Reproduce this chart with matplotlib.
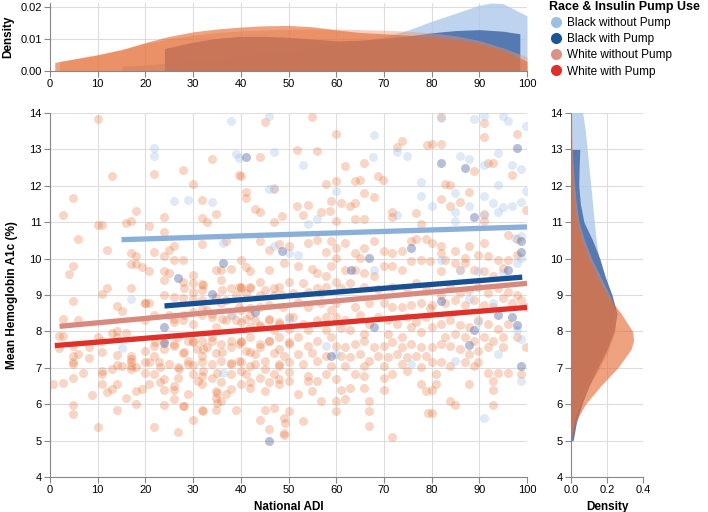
import numpy as np
import matplotlib
matplotlib.use("Agg")
import matplotlib.pyplot as plt
from matplotlib.lines import Line2D

plt.rcParams['font.family'] = ['Liberation Sans', 'DejaVu Sans']

# ---- scatter points (ADI, mean A1c) ----
white_0_20 = [(10,13.84),(13,12.28),(4.9,11.66),(2.8,11.2),(18.1,11.3),(10,10.93),(11,10.93),(16,10.98),(17,11.04),
    (5.9,10.55),(11.9,10.25),(17,10.16),(18.1,10.07),(17,9.86),(18.1,9.86),(19.2,9.76),(4.9,9.79),(3.9,9.57),(11.9,9.2),
    (11,9.03),(17,9.2),(4.9,8.83),(14,8.69),(15,8.57),(20,8.77),(2.8,8.33),(5.9,8.3),(1.8,7.88),(2.8,7.86),(1.8,7.55),
    (4.9,7.6),(8.1,7.56),(10,7.84),(11,7.73),(13,7.95),(14,8.0),(16,7.95),(14,7.84),(14,7.36),(4.9,7.33),(4.9,7.15),
    (4.9,7.1),(5.9,7.38),(8.1,7.27),(11,7.43),(17,7.33),(17,7.24),(17,7.15),(17,7.06),(17,6.96),(18.1,7.03),(14,7.08),
    (15,7.04),(13,6.96),(11,6.92),(11,6.82),(7,6.87),(0.7,6.56),(2.8,6.58),(4.9,6.71),(11,6.55),(11.9,6.34),(13,6.42),
    (14,6.55),(8.9,6.25),(16,6.18),(18.1,6.36),(19.2,6.42),(4.9,5.97),(4.9,5.74),(14,5.85),(18.1,6.0),(10,5.37),(20,6.87),(20,7.15)]

white_20_40 = [(21.9,12.33),(27.9,12.43),(29.9,12.06),(34,12.73),(39.7,12.29),(23.8,11.13),(20.8,10.9),(23.8,10.74),
    (31.9,11.6),(31.9,11.11),(32.9,11.0),(34.9,11.22),(31.9,10.39),(36.9,10.48),(25.9,10.34),(21.9,10.18),(24.9,10.23),
    (23.8,10.06),(25.9,9.97),(27.9,9.95),(20.8,9.65),(23.8,9.65),(24.9,9.6),(23.8,9.42),(27.9,9.37),(29.9,9.34),(29.9,9.56),
    (31.9,9.3),(31.9,9.14),(34.9,9.69),(35.9,9.69),(38,9.72),(35.9,9.42),(39.6,9.23),
    (20,8.78),(20.8,8.78),(23.8,9.0),(25.9,8.95),(27.9,8.91),(29.9,8.88),(31.9,8.86),(31.9,8.62),(32.9,8.58),(34.9,8.95),
    (35.9,8.78),(36.9,8.86),(38.9,9.0),(39.7,8.68),
    (20,8.3),(21.9,8.44),(24.9,8.44),(25.9,8.26),(27.9,8.31),(29.9,8.21),(31.9,8.44),(33.9,8.4),(34.9,8.12),(36.9,8.31),(38.9,8.31),
    (20,7.47),(21.9,7.61),(23.8,7.75),(25.9,7.66),(26.9,7.84),(28.9,7.75),(29.9,7.75),(31.9,7.75),(32.9,7.56),(33.9,7.84),
    (35.9,7.66),(37.9,7.75),(39.7,7.66),(21.9,7.33),(27.9,7.4),(30.8,7.52),(31.9,7.33),(34.9,7.42),
    (20.8,7.15),(22.8,7.15),(24.9,7.1),(26.9,7.03),(28.9,7.19),(29.9,7.08),(31.9,7.15),(33.9,7.1),(35.9,7.19),(37.9,7.12),
    (39.7,7.19),(21.9,6.82),(23.8,6.68),(26.9,6.73),(29.9,6.82),(31.9,6.78),(33.9,6.73),(35.9,6.62),(37.9,6.82),
    (23.8,6.38),(25.9,6.38),(28.9,6.29),(31.9,6.55),(34.9,6.36),(34.9,6.18),(35.9,6.08),(36.9,6.29),(20.8,6.55),
    (23.8,5.99),(25.9,6.13),(27.9,5.96),(31.9,5.83),(34.9,5.83),(21.9,5.37),(26.9,5.23),(29.9,5.57),
    (28,9.19),(30,9.09),(32,9.28),(36,9.14),(38,9.19),(26,8.35),(28,8.44),(30,8.54),(34,8.49),(36,8.35),(38,8.44),
    (22,7.7),(24,7.52),(26,7.61),(28,7.43),(30,7.7),(32,7.52),(34,7.75),(36,7.43),(38,7.56),(23,7.01),(27,6.98),(29,7.1),
    (32,6.92),(35,6.87),(38,7.1),(23,6.6),(26,6.5),(31,6.64),(35,6.31),(38,6.43),(28,5.94),(32,5.81),(35,6.04),(39,5.85)]

white_40_60 = [(45,13.74),(55,13.88),(44,12.78),(51.7,12.98),(55.9,12.95),(40,12.27),(41,11.82),(41,11.67),(47,11.92),
    (51.7,11.45),(54,11.48),(57.9,12.04),(59,11.59),(43,11.35),(44,11.27),(48.7,11.18),(56.9,11.27),(47,11.0),(53,11.2),(58.8,11.31),
    (44,10.48),(46,10.23),(48,10.39),(50,10.34),(54,10.43),(55.9,10.52),(57.9,10.17),(59,10.48),(40,9.97),(41.9,9.65),
    (46,9.7),(49,9.88),(51.9,9.79),(55,9.72),(55.9,9.6),(57.9,9.51),(59,9.79),(41,9.77),(44,9.37),
    (40,9.23),(41.9,9.19),(45,9.14),(48,9.23),(50,9.37),(53,9.33),(55.9,9.19),(57.9,9.23),(41,9.05),(47,9.0),(51,9.05),(54,9.09),(56.9,9.05),
    (40,8.58),(41.9,8.63),(44,8.68),(46,8.72),(48.9,8.68),(51.9,8.81),(54,8.68),(56.9,8.77),(59,8.58),(41,8.35),(43,8.3),
    (46,8.3),(48,8.26),(51,8.4),(53,8.21),(55.9,8.3),(57.9,8.4),(41.9,8.12),(44,8.12),(47,8.03),(50,8.07),(54,8.03),(57.9,8.05),
    (40,7.75),(41.9,7.84),(44,7.66),(46,7.75),(48,7.84),(50,7.7),(51.9,7.84),(54,7.61),(55.9,7.75),(59,7.84),(41,7.47),
    (43,7.38),(47,7.42),(49,7.33),(51.9,7.38),(55,7.42),(57.9,7.33),(40,7.15),(43,7.1),(45,7.19),(48,7.06),(50,7.15),
    (53,7.1),(55.9,7.19),(59,7.06),
    (41,6.82),(44,6.73),(47,6.82),(50,6.64),(54,6.78),(55.9,6.64),(57.9,6.82),(41.9,6.45),(45,6.36),(48,6.55),(51.9,6.27),
    (54,6.64),(55,6.36),(56.9,6.08),(40,6.55),
    (45,5.85),(44,5.57),(47,5.9),(49,5.62),(50,5.8),(53,5.53),(49,5.2),(46,5.32),
    (40,9.19),(42,9.23),(44,9.0),(47,9.19),(48.6,9.0),(40,8.26),(42,8.44),(44,8.17),(46,8.35),(48,8.21),(50,8.4),
    (40,7.7),(42,7.43),(44,7.56),(46,7.75),(48,7.52),(50,7.66),(40,6.92),(42,7.06),(45,6.96),(48,7.1),(50,6.89),
    (42,6.6),(46,6.6),(48,6.69),(49.3,5.48),(49.1,5.16)]

white_60_80 = [(60,13.42),(73.8,13.23),(72.8,13.07),(79,13.12),(61.9,12.54),(65.9,12.63),(68.8,12.27),(69.9,12.15),
    (60,12.12),(63.9,12.12),(64.9,12.15),(61,11.53),(63.9,11.53),(65.9,11.8),(67.9,11.68),(62.9,11.44),(71.8,11.29),
    (76.8,11.24),(71.8,11.15),(60,11.04),(63.9,11.08),(65.9,11.08),(77.7,10.94),
    (60,10.3),(61.9,10.44),(65.9,10.3),(67.9,10.48),(70,10.2),(73.8,10.2),(75.7,10.48),(76.8,10.55),(78.8,10.53),
    (63.9,10.16),(71.8,10.16),(60,10.02),(64.9,10.02),(70,9.79),(71.8,9.79),(73.8,9.7),(75.7,9.93),(77.7,9.95),(79.7,9.93),
    (61.9,9.7),(63.9,9.7),(65.9,9.6),(67.9,9.51),(60,9.37),
    (61,9.19),(62.9,9.33),(65.9,9.23),(68.8,9.16),(71.8,9.23),(74.8,9.19),(76.8,9.33),(78.8,9.23),(60,8.77),(63.9,8.68),
    (66.9,8.77),(70,8.77),(71.8,8.68),(73.8,8.68),(75.7,8.72),(77.7,8.77),(79.7,8.63),
    (60,8.4),(61.9,8.31),(64.9,8.44),(66.9,8.21),(68.8,8.4),(70.8,8.31),(72.8,8.21),(74.8,8.4),(76.8,8.26),(78.8,8.4),
    (61,8.08),(62.9,8.03),(65.9,7.94),(70.8,7.94),(73.8,7.84),(75.7,8.12),(77.7,7.98),
    (60,7.61),(61.9,7.56),(63.9,7.66),(65.9,7.75),(67.9,7.56),(70,7.61),(71.8,7.7),(73.8,7.56),(75.7,7.66),(77.7,7.56),
    (61,7.33),(62.9,7.29),(64.9,7.38),(66.9,7.19),(68.8,7.33),(70.8,7.29),(72.8,7.38),(74.8,7.29),(76.8,7.33),(78.8,7.33),
    (61.9,7.06),(65.9,7.06),(70,7.06),(73.8,7.1),(77.7,7.01),
    (60,6.68),(63.9,6.82),(65.9,6.78),(70,6.73),(71.8,6.82),(74.8,6.92),(61,6.4),(62.9,6.45),(65.9,6.45),(70,6.4),
    (77.7,6.55),(78.8,6.36),(60,6.08),(61.9,6.13),(66.9,6.08),
    (60,5.82),(66.9,5.8),(66.9,5.39),(71.8,5.11),(79.3,5.76)]

white_80_100 = [(81.9,13.9),(90.9,13.72),(90.9,13.33),(97.9,13.42),(81.9,13.14),(80,13.14),(92.9,12.64),(91.9,12.64),
    (96.9,12.29),(88.9,12.42),(87.9,11.84),(82.9,12.06),(83.9,12.01),(81.9,11.64),(83.9,11.45),(85.9,11.55),(90.9,11.22),
    (90.9,11.04),(99.7,11.34),
    (80,10.44),(81.9,10.34),(84.9,10.2),(87.9,10.34),(90.9,10.44),(96,10.64),(97.9,10.53),(81.9,10.16),(86.9,10.02),
    (89.8,10.11),(91.9,10.06),(93.9,9.97),(96,9.97),(97.9,10.11),(82.9,9.97),(84.9,9.88),(86.9,9.88),(88.9,9.7),
    (90.9,9.65),(81.9,9.65),(85.9,9.7),(95,9.74),(92.9,9.51),
    (80,8.72),(81.9,9.0),(83.9,9.19),(85.9,9.05),(87.9,9.14),(89.8,9.23),(91.9,9.05),(93.9,9.19),(96,9.09),(97.9,9.0),
    (82.9,8.77),(84.9,8.86),(86.9,8.72),(88.9,8.86),(90.9,8.72),(92.9,8.68),(94.9,8.91),(96.9,8.77),(98.8,8.86),(99.7,8.68),
    (80,8.12),(81.9,8.21),(83.9,8.31),(85.9,8.17),(87.9,8.12),(89.8,8.31),(91.9,8.21),(93.9,8.07),(96,8.21),(82.9,7.84),
    (84.9,7.94),(86.9,7.84),(88.9,7.75),(90.9,7.84),(92.9,7.75),(94.9,7.84),(97.9,7.84),
    (80,7.56),(81.9,7.66),(83.9,7.61),(85.9,7.52),(87.9,7.38),(89.8,7.47),(91.9,7.56),(94.9,7.56),(81.9,7.15),(83.9,7.06),
    (86.9,7.15),(88.9,7.06),(91.9,6.87),(93.9,6.87),(96,6.87),(99.7,7.56),(80,7.15),(89.8,7.15),(98.8,6.82),
    (80.9,6.82),(80.9,6.55),(80,6.4),(87.9,6.55),(92.9,6.64),(92.9,6.38),(83.9,6.08),(84.9,5.99),(92.9,5.99),(80,5.76)]

black_no_pump = [(17,8.88),(15,7.55),(21.9,13.03),(21.9,12.82),(25.9,11.58),(28.9,11.62),(34,11.55),(38,13.77),
    (38.9,12.86),(39.7,12.77),(36.3,10.43),(38.2,8.44),(36.3,6.87),(46,13.93),(47,12.92),(53,12.56),(46,11.9),(46.9,11.94),
    (55.9,11.1),(54,10.94),(47,10.34),(50,10.16),(51.9,10.11),(57.9,7.6),(50,8.31),(67.9,13.4),(67.8,12.78),(72.8,12.94),
    (74.8,12.82),(60,11.87),(77.7,12.1),(77.7,11.73),(72.8,11.2),(67.9,9.7),(60,7.38),(75.7,7.1),
    (81.9,13.86),(88.9,13.84),(90.9,13.93),(94.9,13.93),(96,13.79),(99.7,13.63),(85.9,12.82),(87.9,12.73),(93.9,12.91),
    (96.9,12.58),(98.8,12.47),(90.9,12.56),(93.9,12.01),(80,11.45),(84.9,11.8),(87.9,11.45),(90.9,11.73),(92.9,11.53),
    (94.9,11.41),(96.9,11.44),(98.8,11.55),(99.7,11.87),(84.9,11.27),(84.9,11.04),(90.9,11.2),(93.9,11.29),(97.4,10.57),
    (98.8,10.62),(81.9,9.95),(85.9,9.7),(89.8,9.65),(94.9,9.6),(97.9,9.88),(98.8,10.02),(87.9,8.9),(92.9,8.77),(89.8,8.26),
    (97.9,8.03),(98.8,7.8),(84.9,7.19),(90.9,5.62),(93.9,7.38),(98.8,6.64)]

black_pump = [(36.3,9.88),(26.9,9.46),(34,9.02),(23.8,8.12),(23.8,7.68),(41,12.78),(48.7,10.2),(43,8.54),(59,7.33),
    (46,5.0),(75.7,10.3),(66.9,10.02),(63,9.7),(67.9,8.12),(97.9,13.05),(81.9,12.64),(86.9,12.5),(88.9,11.15),(98.8,10.48),
    (98.8,10.17),(96,9.7),(81.9,8.83),(96.9,8.4),(97.9,8.17),(88.9,8.03),(87.9,7.64),(98.8,7.06),(93.9,8.44)]

# ---- groups, fitted lines (end points) ----
groups = ['Black without Pump', 'Black with Pump', 'White without Pump', 'White with Pump']
legend_colors = ['#9dbfe4', '#1c5597', '#de9187', '#df2f2b']
line_colors = ['#8aafd9', '#175093', '#d98a7f', '#e0302a']
fit_x0 = [15, 24, 2, 1]
fit_x1 = [100, 99, 100, 100]
fit_y0 = [10.52, 8.70, 8.14, 7.61]
fit_y1 = [10.87, 9.49, 9.32, 8.66]

# ---- marginal densities ----
top_adi = [
    [15, 20, 25, 30, 35, 40, 45, 50, 55, 60, 65, 70, 75, 80, 85, 90, 92.5, 95, 100],
    [24, 30, 35, 40, 45, 50, 55, 60, 65, 70, 75, 80, 85, 90, 95, 98.5],
    [2, 5, 10, 15, 20, 25, 30, 35, 40, 45, 50, 55, 60, 65, 70, 75, 80, 85, 90, 95, 100],
    [1, 5, 10, 15, 20, 25, 30, 35, 40, 45, 50, 55, 60, 65, 70, 75, 80, 85, 90, 95, 100],
]
top_density = [
    [0.0015, 0.0019, 0.0025, 0.0032, 0.004, 0.0048, 0.0056, 0.0064, 0.0073, 0.0083, 0.0094, 0.0106, 0.0127, 0.0155,
     0.018, 0.0205, 0.0212, 0.021, 0.0172],
    [0.0070, 0.0090, 0.0102, 0.0108, 0.0108, 0.0105, 0.0100, 0.0094, 0.0096, 0.0102, 0.0109, 0.0119, 0.0126, 0.0129,
     0.0124, 0.0116],
    [0.003, 0.0038, 0.0052, 0.0068, 0.0085, 0.0100, 0.0112, 0.0120, 0.0125, 0.0128, 0.0130, 0.0131, 0.0131, 0.0129,
     0.0127, 0.0124, 0.0119, 0.0110, 0.0095, 0.0072, 0.0044],
    [0.0027, 0.0037, 0.0050, 0.0066, 0.0089, 0.0108, 0.0122, 0.0131, 0.0137, 0.0141, 0.0142, 0.0138, 0.0128, 0.0120,
     0.0116, 0.0112, 0.0107, 0.0099, 0.0087, 0.0065, 0.0030],
]
right_a1c = [
    [5.6, 6, 6.5, 7, 7.5, 8, 8.5, 9, 9.5, 10, 10.5, 11, 11.5, 12, 12.5, 13, 13.5, 14, 14.5],
    [5, 5.5, 6, 6.5, 7, 7.5, 8, 8.5, 9, 9.5, 10, 10.5, 11, 11.5, 12, 12.5, 13],
    [5.2, 5.5, 6, 6.5, 7, 7.5, 8, 8.5, 9, 9.5, 10, 10.5, 11, 11.5, 12, 12.5, 13, 13.5, 14],
    [5.1, 5.5, 6, 6.5, 7, 7.5, 7.75, 8, 8.5, 9, 9.5, 10, 10.5, 11, 11.5, 12, 12.5, 13, 13.5, 14],
]
right_density = [
    [0.015, 0.04, 0.08, 0.13, 0.18, 0.22, 0.24, 0.22, 0.19, 0.155, 0.14, 0.13, 0.12, 0.11, 0.10, 0.09, 0.08, 0.065, 0.05],
    [0.012, 0.03, 0.06, 0.10, 0.15, 0.20, 0.24, 0.255, 0.228, 0.19, 0.16, 0.12, 0.072, 0.052, 0.043, 0.045, 0.049],
    [0.005, 0.015, 0.05, 0.10, 0.16, 0.21, 0.245, 0.25, 0.215, 0.165, 0.115, 0.075, 0.045, 0.03, 0.02, 0.013, 0.008, 0.005, 0.003],
    [0.005, 0.024, 0.08, 0.165, 0.26, 0.333, 0.348, 0.342, 0.277, 0.20, 0.146, 0.10, 0.062, 0.034, 0.02, 0.011, 0.007, 0.004, 0.002, 0.001],
]
density_colors = ['#a9c5e8', '#4a6fab', '#eb9a78', '#e56a32']
density_alpha = [0.75, 0.9, 0.45, 0.62]

white = np.array(white_0_20 + white_20_40 + white_40_60 + white_60_80 + white_80_100)
bnp = np.array(black_no_pump)
bp = np.array(black_pump)

fig = plt.figure(figsize=(7.08, 5.12), dpi=100)
W, H = 708, 512
def box(l, t, r, b):
    return [l / W, 1 - b / H, (r - l) / W, (b - t) / H]

ax = fig.add_axes(box(50, 113, 527, 477))
axt = fig.add_axes(box(50, 3, 527, 71))
axr = fig.add_axes(box(571, 113, 643, 477))

def style(a):
    for s in ['top', 'right']:
        a.spines[s].set_visible(False)
    for s in ['left', 'bottom']:
        a.spines[s].set_color('#888888')
        a.spines[s].set_linewidth(0.8)
    a.tick_params(colors='#888888', labelcolor='black', labelsize=8, length=4, width=0.8, pad=2)
    a.grid(True, color='#dddddd', linewidth=0.8)
    a.set_axisbelow(True)

for a in (ax, axt, axr):
    style(a)

# main scatter
ax.scatter(white[:, 0], white[:, 1], s=42, color='#e8773f', alpha=0.3, linewidths=0)
ax.scatter(bnp[:, 0], bnp[:, 1], s=42, color='#a8c2e8', alpha=0.35, linewidths=0)
ax.scatter(bp[:, 0], bp[:, 1], s=42, color='#4d5f9f', alpha=0.4, linewidths=0)
for i in range(4):
    ax.plot([fit_x0[i], fit_x1[i]], [fit_y0[i], fit_y1[i]], color=line_colors[i], lw=3.8, solid_capstyle='butt')
ax.set_xlim(0, 100)
ax.set_ylim(4, 14)
ax.set_xticks(range(0, 101, 10))
ax.set_yticks(range(4, 15))
ax.set_xlabel('National ADI', fontsize=8.5, fontweight='bold', labelpad=4)
ax.set_ylabel('Mean Hemoglobin A1c (%)', fontsize=8.5, fontweight='bold', labelpad=8)

# top density
for i in range(4):
    axt.fill_between(top_adi[i], 0, top_density[i], color=density_colors[i], alpha=density_alpha[i], linewidth=0)
axt.set_xlim(0, 100)
axt.set_ylim(0, 0.0212)
axt.set_xticks(range(0, 101, 10))
axt.set_yticks([0, 0.01, 0.02])
axt.set_yticklabels(['0.00', '0.01', '0.02'])
axt.set_ylabel('Density', fontsize=8.5, fontweight='bold', labelpad=4)

# right density
for i in range(4):
    axr.fill_betweenx(right_a1c[i], 0, right_density[i], color=density_colors[i], alpha=density_alpha[i], linewidth=0)
axr.set_xlim(0, 0.4)
axr.set_ylim(4, 14)
axr.set_xticks([0, 0.2, 0.4])
axr.set_xticklabels(['0.0', '0.2', '0.4'])
axr.set_yticks(range(4, 15))
axr.set_xlabel('Density', fontsize=8.5, fontweight='bold', labelpad=4)

handles = [Line2D([], [], marker='o', linestyle='none', markersize=8, markerfacecolor=c, markeredgecolor='none')
           for c in legend_colors]
leg = fig.legend(handles, groups, loc='upper left', bbox_to_anchor=(549 / W, 1 - 1 / H), frameon=False,
                 title='Race & Insulin Pump Use', fontsize=8.5, handletextpad=0.3, labelspacing=0.35,
                 borderaxespad=0, borderpad=0, handlelength=1.2, alignment='left')
leg.get_title().set_fontweight('bold')
leg.get_title().set_fontsize(9)

fig.savefig('out.png', dpi=100)
